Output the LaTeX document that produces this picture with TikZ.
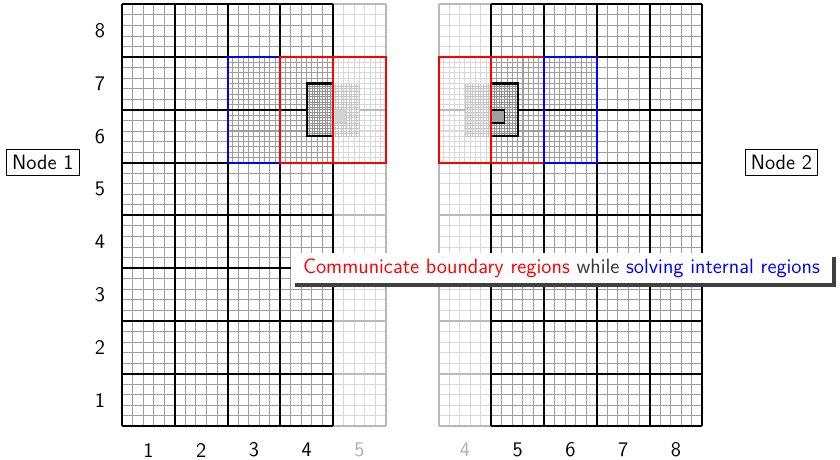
\documentclass[tikz,border=0pt]{standalone}
\usepackage{xcolor}
\usepackage{tikz}
\usetikzlibrary{shadows,positioning}
\tikzset{
  coarse/.style={draw=black, line width=1.1pt},
  fine/.style={draw=gray!75, line width=0.5pt},
  finer/.style={draw=gray!85, line width=0.4pt},
  ghostcoarse/.style={draw=gray!55, line width=1.1pt},
  ghostfine/.style={draw=gray!30, line width=0.5pt},
  ghostfiner/.style={draw=gray!45, line width=0.4pt},
  bnd/.style={draw=red, line width=1.1pt},
  inr/.style={draw=blue, line width=1.1pt},
  nodebox/.style={rectangle, draw=black, line width=0.6pt, inner sep=3pt},
  callout/.style={rectangle, fill=white, inner xsep=6.5pt, inner ysep=3pt,
                  drop shadow={shadow xshift=2.2pt, shadow yshift=-2.2pt, fill=black!75, opacity=1}},
  ghostlbl/.style={text=gray!60}
}
\begin{document}
\begin{tikzpicture}[every node/.style={font=\fontsize{11.2}{13}\selectfont\sffamily}]
  \useasboundingbox (-2.313,-0.618) rectangle (13.61,8.083);
  % node 1: columns 1-4, ghost column 5
  \draw[ghostfine] (4,0) grid[step=0.2] (5,8);
  \draw[ghostfine] (4,5) grid[step=0.1] (5,7);
  \draw[ghostcoarse] (4,0) grid (5,8);
  \draw[fine] (0,0) grid[step=0.2] (4,8);
  \draw[fine] (2,5) grid[step=0.1] (4,7);
  \draw[coarse] (0,0) grid (4,8);
  \fill[white] (3.5,5.5) rectangle (4.5,6.5);
  \draw[finer] (3.5,5.5) grid[step=0.05] (4,6.5);
  \draw[ghostfiner] (4,5.5) grid[step=0.05] (4.5,6.5);
  \fill[gray!35] (4,5.75) rectangle (4.25,6);
  \draw[coarse] (4,5.5) -| (3.5,6.5) -- (4,6.5);
  \draw[inr] (2,5) rectangle (3,7);
  \draw[bnd] (3,5) rectangle (4,7);
  \draw[bnd] (4,5) rectangle (5,7);
  % node 2: columns 5-8, ghost column 4
  \begin{scope}[xshift=3cm]
    \draw[ghostfine] (3,0) grid[step=0.2] (4,8);
    \draw[ghostfine] (3,5) grid[step=0.1] (4,7);
    \draw[ghostcoarse] (3,0) grid (4,8);
    \draw[fine] (4,0) grid[step=0.2] (8,8);
    \draw[fine] (4,5) grid[step=0.1] (6,7);
    \draw[coarse] (4,0) grid (8,8);
    \fill[white] (3.5,5.5) rectangle (4.5,6.5);
    \draw[ghostfiner] (3.5,5.5) grid[step=0.05] (4,6.5);
    \draw[finer] (4,5.5) grid[step=0.05] (4.5,6.5);
    \fill[gray!75] (4,5.75) rectangle (4.25,6);
    \draw[coarse, line width=0.8pt] (4,5.75) -| (4.25,6) -- (4,6);
    \draw[coarse] (4,5.5) -| (4.5,6.5) -- (4,6.5);
    \draw[bnd] (3,5) rectangle (4,7);
    \draw[bnd] (4,5) rectangle (5,7);
    \draw[inr] (5,5) rectangle (6,7);
  \end{scope}
  % axis labels
  \foreach \j in {1,...,8} \node (row\j) at (-0.42,\j-0.5) {\j};
  \foreach \i in {1,...,4} \node (colA\i) at (\i-0.5,-0.45) {\i};
  \node[ghostlbl] (colA5) at (4.5,-0.45) {5};
  \node[ghostlbl] (colB4) at (6.5,-0.45) {4};
  \foreach \i in {5,...,8} \node (colB\i) at (\i+2.5,-0.45) {\i};
  \node[nodebox] (n1) at (-1.5,5) {Node 1};
  \node[nodebox] (n2) at (12.5,5) {Node 2};
  \node[callout] (msg) at (8.33,3.0)
    {\textcolor{red}{Communicate boundary regions} \textcolor{black!80}{while} \textcolor{blue}{solving internal regions}};
\end{tikzpicture}
\end{document}
